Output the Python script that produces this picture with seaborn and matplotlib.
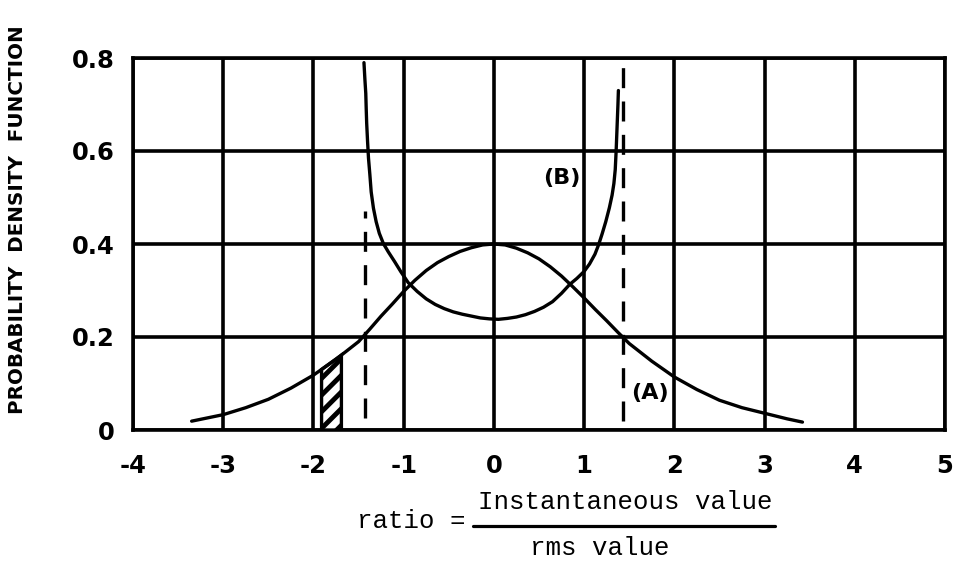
import numpy as np
import pandas as pd
import matplotlib
matplotlib.use("Agg")
import matplotlib.pyplot as plt
from matplotlib.lines import Line2D
import seaborn as sns

# Curve (A): distribution of a random signal
a_x = [-3.35, -3.25, -3.0, -2.75, -2.5, -2.25, -2.0, -1.75, -1.5, -1.375, -1.25, -1.125,
       -1.0, -0.875, -0.75, -0.625, -0.5, -0.375, -0.25, -0.125, 0.0, 0.125, 0.25, 0.375,
       0.5, 0.625, 0.75, 0.875, 1.0, 1.125, 1.25, 1.375, 1.5, 1.75, 2.0, 2.25, 2.5, 2.75,
       3.0, 3.25, 3.42]
a_y = [0.019, 0.023, 0.033, 0.048, 0.066, 0.090, 0.118, 0.152, 0.190, 0.217, 0.245, 0.271,
       0.298, 0.322, 0.343, 0.360, 0.373, 0.384, 0.392, 0.398, 0.400, 0.398, 0.391, 0.381,
       0.368, 0.351, 0.331, 0.308, 0.284, 0.259, 0.235, 0.210, 0.186, 0.148, 0.114, 0.087,
       0.064, 0.048, 0.036, 0.024, 0.017]

# Curve (B): distribution of a sine wave
b_x = [-1.44, -1.43, -1.42, -1.415, -1.41, -1.40, -1.39, -1.375, -1.36, -1.335, -1.305,
       -1.27, -1.225, -1.17, -1.10, -1.03, -0.95, -0.85, -0.75, -0.65, -0.55, -0.45, -0.35,
       -0.25, -0.15, -0.05, 0.05, 0.15, 0.25, 0.35, 0.45, 0.55, 0.65, 0.75, 0.84, 0.92,
       1.00, 1.06, 1.12, 1.16, 1.20, 1.24, 1.28, 1.31, 1.33, 1.345, 1.355, 1.365, 1.375, 1.38]
b_y = [0.790, 0.755, 0.724, 0.690, 0.660, 0.620, 0.585, 0.550, 0.512, 0.477, 0.448,
       0.423, 0.401, 0.383, 0.362, 0.340, 0.317, 0.298, 0.282, 0.270, 0.261, 0.254, 0.249,
       0.245, 0.241, 0.239, 0.238, 0.240, 0.243, 0.248, 0.255, 0.264, 0.276, 0.294, 0.313,
       0.326, 0.341, 0.357, 0.378, 0.398, 0.422, 0.448, 0.478, 0.505, 0.530, 0.560, 0.600,
       0.650, 0.700, 0.730]

# Peak (+/- peak) lines of the sine wave
peak_x = [-1.43, 1.43]
peak_ylo = [0.025, 0.02]
peak_yhi = [0.47, 0.80]

# Shaded probability strip under curve (A)
strip_x = [-1.91, -1.69]

x_ticks = [-4, -3, -2, -1, 0, 1, 2, 3, 4, 5]
x_labels = ["-4", "-3", "-2", "-1", "0", "1", "2", "3", "4", "5"]
y_ticks = [0, 0.2, 0.4, 0.6, 0.8]
y_labels = ["0", "0.2", "0.4", "0.6", "0.8"]

sns.set_theme(style="white")
plt.rcParams["font.family"] = ["DejaVu Sans"]
plt.rcParams["text.color"] = "black"
plt.rcParams["hatch.linewidth"] = 3.5
plt.rcParams["hatch.color"] = "black"

W, H = 958, 571
fig = plt.figure(figsize=(W / 100, H / 100), dpi=100)
fig.patch.set_facecolor("white")
L, R, T, B = 133, 945, 58, 430
ax = fig.add_axes([L / W, 1 - B / H, (R - L) / W, (B - T) / H])

df_a = pd.DataFrame({"x": a_x, "y": a_y})
df_b = pd.DataFrame({"x": b_x, "y": b_y})
sns.lineplot(data=df_a, x="x", y="y", ax=ax, color="black", lw=2.4,
             sort=False, estimator=None, zorder=4)
sns.lineplot(data=df_b, x="x", y="y", ax=ax, color="black", lw=2.4,
             sort=False, estimator=None, zorder=4)

for px, lo, hi in zip(peak_x, peak_ylo, peak_yhi):
    ax.plot([px, px], [lo, hi], color="black", lw=2.4, dashes=(6, 4), zorder=3)

# hatched strip, top edge follows curve (A)
top_lo = np.interp(strip_x[0], a_x, a_y)
top_hi = np.interp(strip_x[1], a_x, a_y)
ax.fill([strip_x[0], strip_x[0], strip_x[1], strip_x[1]],
        [0, top_lo, top_hi, 0], facecolor="white", edgecolor="black",
        hatch="//", lw=2.4, zorder=3)

ax.text(0.75, 0.543, "(B)", fontsize=16, fontweight="bold", ha="center", va="center",
        color="black")
ax.text(1.73, 0.08, "(A)", fontsize=16, fontweight="bold", ha="center", va="center",
        color="black")

ax.set_xlim(-4, 5)
ax.set_ylim(0, 0.8)
ax.set_xticks(x_ticks)
ax.set_xticklabels(x_labels)
ax.set_yticks(y_ticks)
ax.set_yticklabels(y_labels)
ax.tick_params(axis="both", length=0, labelsize=17.5, colors="black")
ax.tick_params(axis="x", pad=17)
ax.tick_params(axis="y", pad=13)
for lab in ax.get_xticklabels() + ax.get_yticklabels():
    lab.set_fontweight("bold")
ax.grid(True, color="black", lw=2.6)
for sp in ax.spines.values():
    sp.set_color("black")
    sp.set_linewidth(2.6)
ax.set_xlabel("")
ax.set_ylabel("")

fig.text(18 / W, 1 - 220 / H, "PROBABILITY  DENSITY  FUNCTION", rotation=90,
         fontsize=14.3, fontweight="bold", ha="center", va="center", color="black")

mono = ["Liberation Mono", "DejaVu Sans Mono"]
fig.text(411 / W, 1 - 521 / H, "ratio =", family=mono, fontsize=18.5,
         ha="center", va="center", color="black")
fig.text(625 / W, 1 - 502 / H, "Instantaneous value", family=mono, fontsize=18.5,
         ha="center", va="center", color="black")
fig.text(600 / W, 1 - 548 / H, "rms value", family=mono, fontsize=18.5,
         ha="center", va="center", color="black")
fig.add_artist(Line2D([473 / W, 775 / W], [1 - 526 / H, 1 - 526 / H],
                      transform=fig.transFigure, color="black", lw=2.3))

fig.savefig("out.png", dpi=100, facecolor="white")
